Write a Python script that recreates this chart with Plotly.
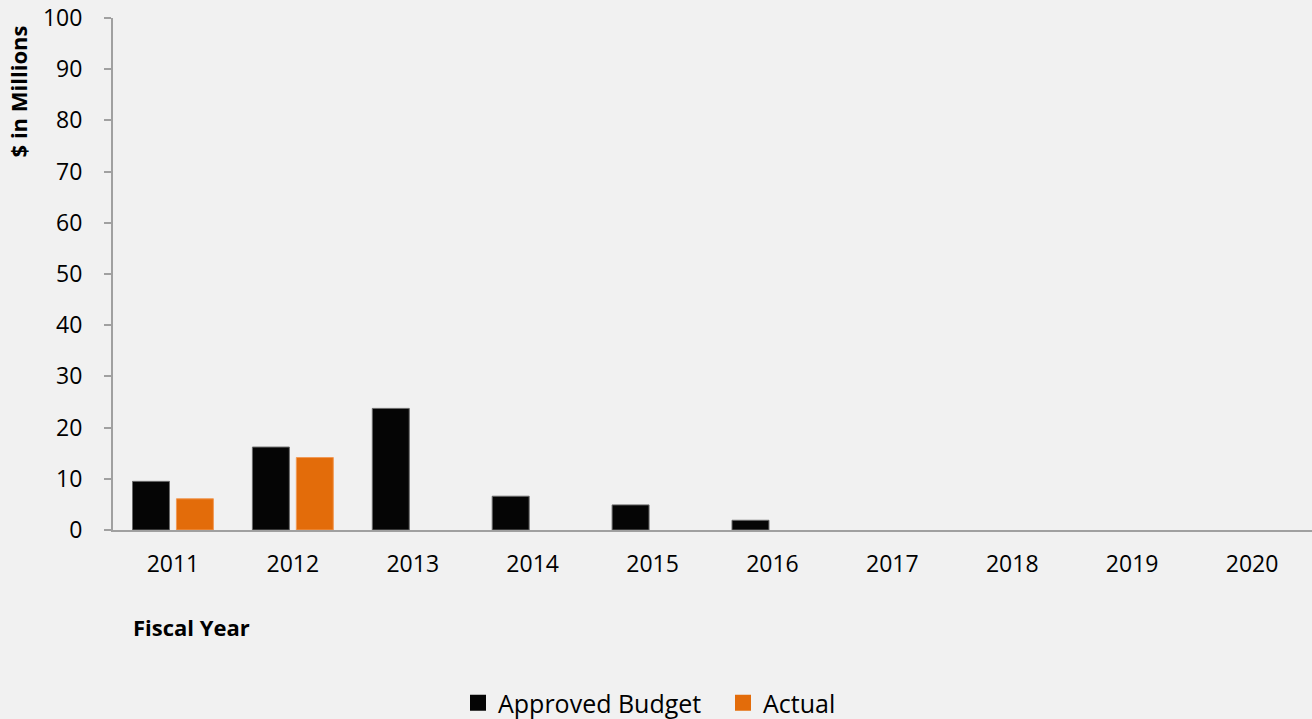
import plotly.graph_objects as go

years = ["2011", "2012", "2013", "2014", "2015", "2016", "2017", "2018", "2019", "2020"]
approved_budget = [9.5, 16.2, 23.75, 6.6, 4.9, 1.9, 0, 0, 0, 0]
actual = [6.1, 14.15, 0, 0, 0, 0, 0, 0, 0, 0]
y_ticks = [0, 10, 20, 30, 40, 50, 60, 70, 80, 90, 100]
series_names = ["Approved Budget", "Actual"]
series_colors = ["#050505", "#E36C0A"]
outline_colors = ["#6a6a6a", "#F29A55"]

FONT = "Open Sans"
BG = "#F1F1F1"


def outline_widths(values):
    return [1 if v > 0 else 0 for v in values]


fig = go.Figure()
for name, vals, col, ocol in zip(series_names, [approved_budget, actual],
                                 series_colors, outline_colors):
    fig.add_trace(go.Bar(
        x=years, y=vals, name=name, showlegend=False,
        marker=dict(color=col, line=dict(color=ocol, width=outline_widths(vals))),
    ))
# legend entries with larger square swatches
for name, col in zip(series_names, series_colors):
    fig.add_trace(go.Scatter(
        x=[None], y=[None], mode="markers", name=name,
        marker=dict(symbol="square", size=16, color=col),
    ))

fig.update_layout(
    width=1312, height=719,
    paper_bgcolor=BG, plot_bgcolor=BG,
    margin=dict(l=113, r=0, t=18, b=189, autoexpand=False),
    barmode="group", bargap=0.267, bargroupgap=0.159,
    font=dict(family=FONT, size=23, color="#000000"),
    showlegend=True,
    legend=dict(orientation="h", xref="container", yref="container",
                x=458 / 1312, xanchor="left", y=16 / 719, yanchor="middle",
                font=dict(family=FONT, size=25, color="#000000"),
                bgcolor="rgba(0,0,0,0)", itemwidth=30,
                entrywidth=220, entrywidthmode="pixels"),
    xaxis=dict(
        type="category", showgrid=False, zeroline=False,
        showline=True, linecolor="#a0a0a0", linewidth=2,
        ticks="", ticklabelstandoff=12, tickangle=0, automargin=False,
        tickfont=dict(family=FONT, size=23, color="#000000"),
    ),
    yaxis=dict(
        range=[0, 100], tickvals=y_ticks, showgrid=False, zeroline=False,
        showline=True, linecolor="#a0a0a0", linewidth=2,
        ticks="outside", ticklen=7, tickwidth=2, tickcolor="#a0a0a0",
        ticklabelstandoff=17, automargin=False,
        tickfont=dict(family=FONT, size=23, color="#000000"),
    ),
    annotations=[
        dict(text="<b>Fiscal Year</b>", xref="paper", yref="paper",
             x=(131 - 113) / 1199, y=-0.189, xanchor="left", yanchor="middle",
             showarrow=False, font=dict(family=FONT, size=22, color="#000000")),
        dict(text="<b>$ in Millions</b>", xref="paper", yref="paper",
             x=-0.079, y=0.99, xanchor="center", yanchor="top", textangle=-90,
             showarrow=False, font=dict(family=FONT, size=22, color="#000000")),
    ],
)

fig.write_html("out.html")
